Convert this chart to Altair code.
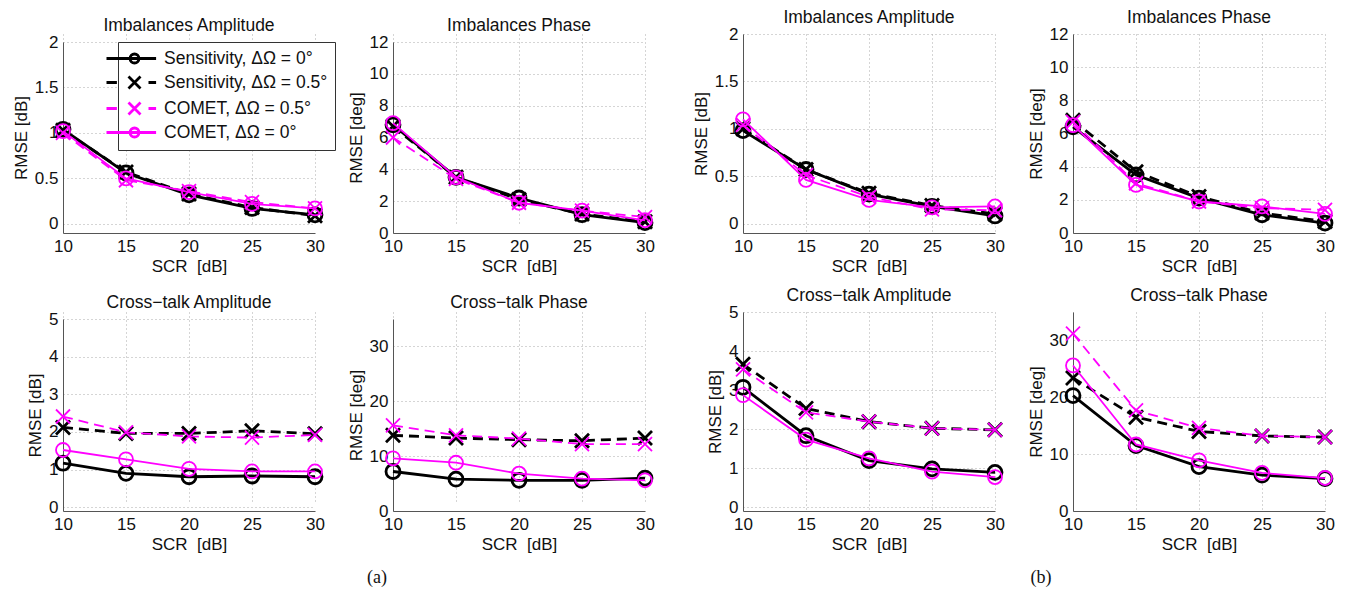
import altair as alt
import pandas as pd

SCR = [10, 15, 20, 25, 30]
SERIES = ["Sensitivity, ΔΩ = 0°", "Sensitivity, ΔΩ = 0.5°", "COMET, ΔΩ = 0.5°", "COMET, ΔΩ = 0°"]
COLORS = ["#000000", "#000000", "#ff00ff", "#ff00ff"]

# ---- (a) ----
A_IA_S0 = [1.04, 0.56, 0.32, 0.17, 0.10]
A_IA_S05 = [1.03, 0.57, 0.33, 0.18, 0.09]
A_IA_C05 = [1.00, 0.48, 0.36, 0.24, 0.17]
A_IA_C0 = [1.02, 0.50, 0.35, 0.22, 0.17]

A_IP_S0 = [6.8, 3.5, 2.2, 1.15, 0.65]
A_IP_S05 = [6.7, 3.5, 2.1, 1.2, 0.7]
A_IP_C05 = [6.0, 3.4, 1.9, 1.4, 1.0]
A_IP_C0 = [6.9, 3.5, 1.9, 1.4, 0.8]

A_CA_S0 = [1.17, 0.90, 0.81, 0.83, 0.81]
A_CA_S05 = [2.12, 1.96, 1.96, 2.03, 1.95]
A_CA_C05 = [2.41, 1.99, 1.88, 1.85, 1.92]
A_CA_C0 = [1.52, 1.27, 1.02, 0.95, 0.95]

A_CP_S0 = [7.2, 5.8, 5.6, 5.6, 6.0]
A_CP_S05 = [13.8, 13.3, 13.0, 12.8, 13.3]
A_CP_C05 = [15.6, 13.8, 13.2, 12.2, 12.2]
A_CP_C0 = [9.6, 8.8, 6.8, 5.9, 5.6]

# ---- (b) ----
B_IA_S0 = [0.98, 0.57, 0.31, 0.18, 0.08]
B_IA_S05 = [1.00, 0.57, 0.32, 0.19, 0.10]
B_IA_C05 = [1.04, 0.51, 0.28, 0.15, 0.14]
B_IA_C0 = [1.10, 0.46, 0.25, 0.17, 0.18]

B_IP_S0 = [6.4, 3.5, 2.1, 1.1, 0.6]
B_IP_S05 = [6.8, 3.7, 2.2, 1.2, 0.7]
B_IP_C05 = [6.7, 3.0, 1.9, 1.5, 1.4]
B_IP_C0 = [6.5, 2.9, 1.9, 1.6, 1.15]

B_CA_S0 = [3.07, 1.83, 1.19, 0.98, 0.89]
B_CA_S05 = [3.66, 2.53, 2.19, 2.02, 1.98]
B_CA_C05 = [3.53, 2.43, 2.19, 2.02, 1.98]
B_CA_C0 = [2.87, 1.73, 1.25, 0.91, 0.77]

B_CP_S0 = [20.3, 11.5, 7.8, 6.3, 5.7]
B_CP_S05 = [23.4, 16.5, 14.0, 13.2, 13.0]
B_CP_C05 = [31.2, 17.7, 14.6, 13.2, 13.0]
B_CP_C0 = [25.6, 11.7, 8.9, 6.7, 5.8]

AMP_TICKS = [0, 0.5, 1, 1.5, 2]
PHASE_TICKS = [0, 2, 4, 6, 8, 10, 12]
CA_TICKS = [0, 1, 2, 3, 4, 5]
CP_TICKS = [0, 10, 20, 30]

FONT = "Liberation Sans"
WIDTHS = [2.8, 2.8, 1.8, 1.8]
DASHES = [None, [10, 6], [10, 6], None]
X_PATH = "M-1,-1L1,1M-1,1L1,-1"
MARKERS = ["circle", X_PATH, X_PATH, "circle"]
LEG_SOLID_O = "M-3.5,0H2.7M0.56,0A0.56,0.56,0,1,1,-0.56,0A0.56,0.56,0,1,1,0.56,0"
LEG_DASH_X = "M-3.5,0H-2.2M1.75,0H2.7M-0.75,-0.75L0.75,0.75M-0.75,0.75L0.75,-0.75"
LEG_SHAPES = [LEG_SOLID_O, LEG_DASH_X, LEG_DASH_X, LEG_SOLID_O]

H = 199
W = 252


def panel(title, ytitle, ydom, yticks, vals, top=0, legend=False, toff=-1):
    rows = []
    for s, v in zip(SERIES, vals):
        for xv, yv in zip(SCR, v):
            rows.append({"scr": xv, "rmse": yv, "series": s})
    df = pd.DataFrame(rows)
    xenc = alt.X("scr:Q", scale=alt.Scale(domain=[SCR[0], SCR[-1]], nice=False, zero=False),
                 axis=alt.Axis(values=SCR, title="SCR \u00a0[dB]", labelFlush=False, format="d"))
    yenc = alt.Y("rmse:Q", scale=alt.Scale(domain=ydom, nice=False, zero=False, range=[H, top]),
                 axis=alt.Axis(values=yticks, title=ytitle, format="~f"))
    base = alt.Chart(df)
    layers = []
    for i, s in enumerate(SERIES):
        sub = base.transform_filter(alt.datum.series == s)
        lkw = dict(color=COLORS[i], strokeWidth=WIDTHS[i])
        if DASHES[i]:
            lkw["strokeDash"] = DASHES[i]
        layers.append(sub.mark_line(**lkw).encode(x=xenc, y=yenc))
        layers.append(sub.mark_point(shape=MARKERS[i], filled=False, size=196, color=COLORS[i],
                                     strokeWidth=WIDTHS[i], opacity=1).encode(x=xenc, y=yenc))
    if legend:
        leg = base.transform_filter("false").mark_point(filled=False, size=256, opacity=1).encode(
            x=xenc, y=yenc,
            color=alt.Color("series:N", scale=alt.Scale(domain=SERIES, range=COLORS), title=None,
                            legend=alt.Legend(orient="none", legendX=55, legendY=8, title=None,
                                              fillColor="white", strokeColor="#333", padding=7,
                                              labelFont=FONT, labelFontSize=17.5, labelColor="#111",
                                              symbolSize=256, labelOffset=20,
                                              rowPadding=1, labelLimit=400,
                                              symbolFillColor="transparent")),
            shape=alt.Shape("series:N", scale=alt.Scale(domain=SERIES, range=LEG_SHAPES), title=None),
            strokeWidth=alt.StrokeWidth("series:N", scale=alt.Scale(domain=SERIES, range=WIDTHS), title=None),
        )
        layers.append(leg)
    return alt.layer(*layers).properties(width=W, height=H, title=alt.Title(title, offset=toff))


a1 = panel("Imbalances Amplitude", "RMSE [dB]", [-0.1, 2], AMP_TICKS, [A_IA_S0, A_IA_S05, A_IA_C05, A_IA_C0], top=8, legend=True)
a2 = panel("Imbalances Phase", "RMSE [deg]", [0, 12], PHASE_TICKS, [A_IP_S0, A_IP_S05, A_IP_C05, A_IP_C0], top=8)
a3 = panel("Cross−talk Amplitude", "RMSE [dB]", [-0.1, 5], CA_TICKS, [A_CA_S0, A_CA_S05, A_CA_C05, A_CA_C0], top=7)
a4 = panel("Cross−talk Phase", "RMSE [deg]", [0, 35], CP_TICKS, [A_CP_S0, A_CP_S05, A_CP_C05, A_CP_C0], top=7, toff=1)

b1 = panel("Imbalances Amplitude", "RMSE [dB]", [-0.1, 2], AMP_TICKS, [B_IA_S0, B_IA_S05, B_IA_C05, B_IA_C0])
b2 = panel("Imbalances Phase", "RMSE [deg]", [0, 12], PHASE_TICKS, [B_IP_S0, B_IP_S05, B_IP_C05, B_IP_C0])
b3 = panel("Cross−talk Amplitude", "RMSE [dB]", [-0.1, 5], CA_TICKS, [B_CA_S0, B_CA_S05, B_CA_C05, B_CA_C0])
b4 = panel("Cross−talk Phase", "RMSE [deg]", [0, 35], CP_TICKS, [B_CP_S0, B_CP_S05, B_CP_C05, B_CP_C0], toff=8)

cap = dict(orient="bottom", anchor="middle", font="Liberation Serif", fontSize=18, fontWeight="normal",
           color="#111", offset=17)
groupA = alt.vconcat(alt.hconcat(a1, a2, spacing=19), alt.hconcat(a3, a4, spacing=19), spacing=19,
                     title=alt.Title("(a)", dx=42, **cap))
groupB = alt.vconcat(alt.hconcat(b1, b2, spacing=19), alt.hconcat(b3, b4, spacing=19), spacing=12,
                     title=alt.Title("(b)", dx=26, **cap))

chart = alt.hconcat(groupA, groupB, spacing=34).properties(
    padding={"left": 4, "top": 0, "right": 0, "bottom": 0}
).configure_axis(
    labelFont=FONT, labelFontSize=17, titleFont=FONT, titleFontSize=17, titleFontWeight="normal",
    labelColor="#111", titleColor="#111", domainColor="#555", domainWidth=1,
    gridColor="#aaa", gridDash=[1, 3], gridWidth=1, ticks=False, labelPadding=5, titlePadding=4,
    labelOverlap=False,
).configure_title(
    font=FONT, fontSize=17.5, fontWeight="normal", color="#111", offset=-1
).configure_view(stroke=None)

chart.save("out.html", embed_options={"renderer": "svg", "actions": False})
